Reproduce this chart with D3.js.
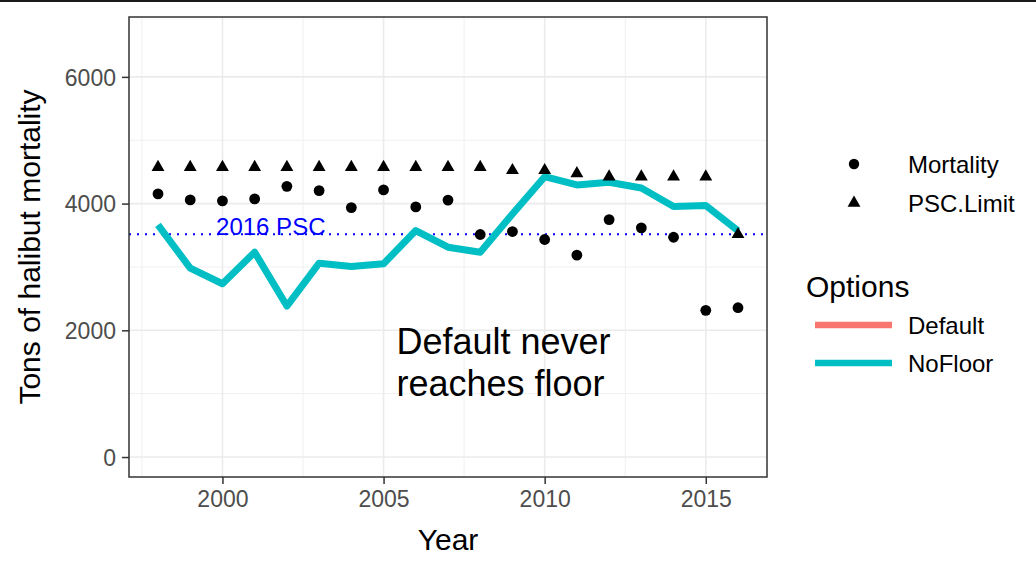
<!DOCTYPE html>
<html><head><meta charset="utf-8">
<script src="https://cdn.jsdelivr.net/npm/d3@7"></script>
<style>body{margin:0;background:#fff}svg{display:block;font-family:"Liberation Sans",Arial,sans-serif}</style>
</head><body><svg id="c" width="1036" height="562"></svg>
<script>
const years = [1998,1999,2000,2001,2002,2003,2004,2005,2006,2007,2008,2009,2010,2011,2012,2013,2014,2015,2016];
const mortality = [4153,4058,4043,4074,4272,4205,3937,4216,3948,4055,3512,3559,3433,3186,3748,3617,3469,2315,2357];
const pscLimit = [4575,4575,4575,4575,4575,4575,4575,4575,4575,4575,4575,4525,4525,4475,4425,4425,4425,4425,3515];
const noFloor = [3664,2981,2735,3233,2383,3060,3008,3050,3575,3312,3233,3837,4425,4294,4336,4247,3953,3969,3570];
const psc2016 = 3515;
const xTicks = [2000,2005,2010,2015];
const yTicks = [0,2000,4000,6000];
const xMinor = [1997.5,2002.5,2007.5,2012.5];
const yMinor = [1000,3000,5000];
const optionNames = ["Default","NoFloor"];
const optionColors = ["#F8766D","#00BFC4"];
const shapeNames = ["Mortality","PSC.Limit"];

const svg = d3.select("#c");
const L=129,R=767,T=17,B=477;
const x = d3.scaleLinear().domain([1997.1,2016.9]).range([L,R]);
const y = d3.scaleLinear().domain([-315,6945]).range([B,T]);

// top slide rule
svg.append("line").attr("x1",0).attr("x2",1036).attr("y1",1).attr("y2",1).attr("stroke","#1a1a1a").attr("stroke-width",2);

const g = svg.append("g");
// grid
g.selectAll(".xm").data(xMinor).join("line").attr("x1",d=>x(d)).attr("x2",d=>x(d)).attr("y1",T).attr("y2",B).attr("stroke","#F0F0F0").attr("stroke-width",1);
g.selectAll(".ym").data(yMinor).join("line").attr("y1",d=>y(d)).attr("y2",d=>y(d)).attr("x1",L).attr("x2",R).attr("stroke","#F0F0F0").attr("stroke-width",1);
g.selectAll(".xM").data(xTicks).join("line").attr("x1",d=>x(d)).attr("x2",d=>x(d)).attr("y1",T).attr("y2",B).attr("stroke","#EBEBEB").attr("stroke-width",1.6);
g.selectAll(".yM").data(yTicks).join("line").attr("y1",d=>y(d)).attr("y2",d=>y(d)).attr("x1",L).attr("x2",R).attr("stroke","#EBEBEB").attr("stroke-width",1.6);

// PSC line
g.append("line").attr("x1",L).attr("x2",R).attr("y1",y(psc2016)).attr("y2",y(psc2016))
 .attr("stroke","#0000FF").attr("stroke-width",2).attr("stroke-dasharray","2,6");
g.append("text").attr("x",x(2001.5)).attr("y",y(psc2016)+1).attr("text-anchor","middle")
 .attr("font-size",24).attr("fill","#0000FF").text("2016 PSC");

// NoFloor line
const line = d3.line().x((d,i)=>x(years[i])).y(d=>y(d));
g.append("path").datum(noFloor).attr("d",line).attr("fill","none").attr("stroke",optionColors[1]).attr("stroke-width",7).attr("stroke-linejoin","round");

// points
g.selectAll(".pt").data(mortality).join("circle").attr("cx",(d,i)=>x(years[i])).attr("cy",d=>y(d)).attr("r",5.4).attr("fill","#000");
const tri = d3.symbol().type(d3.symbolTriangle).size(72);
g.selectAll(".tr").data(pscLimit).join("path").attr("d",tri).attr("transform",(d,i)=>`translate(${x(years[i])},${y(d)})`).attr("fill","#000");

// annotation
const ann = g.append("text").attr("font-size",36).attr("fill","#000");
ann.append("tspan").attr("x",x(2005.4)).attr("y",y(1630)).text("Default never");
ann.append("tspan").attr("x",x(2005.4)).attr("y",y(970)).text("reaches floor");

// panel border
svg.append("rect").attr("x",L).attr("y",T).attr("width",R-L).attr("height",B-T).attr("fill","none").attr("stroke","#333").attr("stroke-width",1.5);

// axes
const xa = svg.append("g").attr("transform",`translate(0,${B})`).call(d3.axisBottom(x).tickValues(xTicks).tickFormat(d3.format("d")).tickSizeOuter(0).tickSize(7));
const ya = svg.append("g").attr("transform",`translate(${L},0)`).call(d3.axisLeft(y).tickValues(yTicks).tickFormat(d3.format("d")).tickSizeOuter(0).tickSize(7));
[xa,ya].forEach(a=>{a.select(".domain").remove();a.selectAll(".tick line").attr("stroke","#333").attr("stroke-width",1.5);
 a.selectAll("text").attr("font-size",23).attr("fill","#4D4D4D").attr("font-family","Liberation Sans, Arial, sans-serif");});
xa.selectAll("text").attr("dy",0).attr("y",30);
ya.selectAll("text").attr("dy","0.36em").attr("x",-13);

// axis titles
svg.append("text").attr("x",(L+R)/2).attr("y",550).attr("text-anchor","middle").attr("font-size",30).text("Year");
svg.append("text").attr("transform",`translate(40,${(T+B)/2}) rotate(-90)`).attr("text-anchor","middle").attr("font-size",30).text("Tons of halibut mortality");

// legends
const lg = svg.append("g");
lg.append("circle").attr("cx",854).attr("cy",164).attr("r",5.2).attr("fill","#000");
lg.append("path").attr("d",tri).attr("transform","translate(854,203)").attr("fill","#000");
lg.selectAll(".st").data(shapeNames).join("text").attr("x",908).attr("y",(d,i)=>164+i*39).attr("dy","0.36em").attr("font-size",24).text(d=>d);
lg.append("text").attr("x",806).attr("y",297).attr("font-size",30).text("Options");
lg.selectAll(".ol").data(optionNames).join("line").attr("x1",815).attr("x2",892).attr("y1",(d,i)=>325+i*38).attr("y2",(d,i)=>325+i*38).attr("stroke",(d,i)=>optionColors[i]).attr("stroke-width",6.5);
lg.selectAll(".ot").data(optionNames).join("text").attr("x",908).attr("y",(d,i)=>325+i*38).attr("dy","0.36em").attr("font-size",24).text(d=>d);
</script></body></html>
